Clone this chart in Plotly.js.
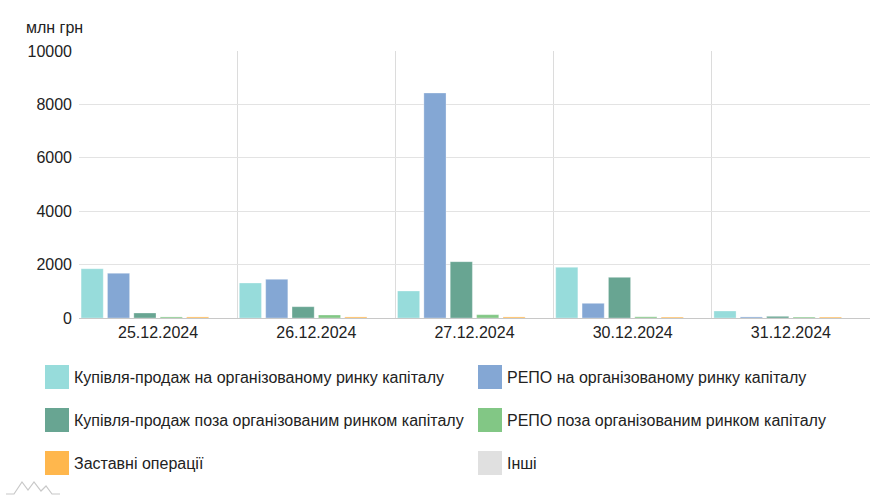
<!DOCTYPE html>
<html><head><meta charset="utf-8">
<script src="https://cdn.plot.ly/plotly-3.0.1.min.js"></script>
<style>html,body{margin:0;padding:0;background:#fff}#chart{width:891px;height:500px}</style>
</head><body><div id="chart"></div>
<script>
const categories = ["25.12.2024","26.12.2024","27.12.2024","30.12.2024","31.12.2024"];
const seriesNames = [
  "Купівля-продаж на організованому ринку капіталу",
  "РЕПО на організованому ринку капіталу",
  "Купівля-продаж поза організованим ринком капіталу",
  "РЕПО поза організованим ринком капіталу",
  "Заставні операції",
  "Інші"
];
const buySellOrg    = [1846, 1310, 1011, 1898, 262];
const repoOrg       = [1674, 1450, 8427, 550, 40];
const buySellOutOrg = [187, 423, 2110, 1524, 62];
const repoOutOrg    = [40, 112, 124, 45, 35];
const pledgeOps     = [40, 40, 40, 35, 35];
const others        = [0, 0, 0, 0, 0];
const seriesValues = [buySellOrg, repoOrg, buySellOutOrg, repoOutOrg, pledgeOps, others];
const colors = ["#97dcdb", "#84a7d4", "#68a592", "#82c785", "#ffb74d", "#e0e0e0"];
const yTicks = [0, 2000, 4000, 6000, 8000, 10000];

const font = "Liberation Sans, Arial, sans-serif";
const traces = seriesValues.map((vals, i) => ({
  type: "bar", name: seriesNames[i], x: categories, y: vals,
  marker: {color: colors[i], line: {color: "rgba(255,255,255,0.5)", width: 0.6}},
  hoverinfo: "x+y+name", showlegend: false
}));

const px = v => (v - 79) / 791, py = v => (318 - v) / 267;
const shapes = [], annotations = [];
annotations.push({xref:"paper", yref:"paper", x:px(24), y:py(27), xanchor:"left", yanchor:"middle",
  text:"млн грн", showarrow:false, font:{family:font, size:16, color:"#222"}});
// legend
const colX = [45, 478], rowY = [377, 420, 463];
seriesNames.forEach((n, i) => {
  const cx = colX[i % 2], cy = rowY[Math.floor(i / 2)];
  shapes.push({type:"rect", xref:"paper", yref:"paper", x0:px(cx), x1:px(cx + 24), y0:py(cy + 12), y1:py(cy - 12),
    fillcolor: colors[i], line:{width:0}, layer:"above"});
  annotations.push({xref:"paper", yref:"paper", x:px(cx + 27), y:py(cy), xanchor:"left", yanchor:"middle",
    text:n, showarrow:false, font:{family:font, size:16, color:"#222"}});
});
// small watermark
shapes.push({type:"path", xref:"paper", yref:"paper",
  path: `M ${px(6)} ${py(494)} L ${px(14)} ${py(494)} L ${px(22)} ${py(482)} L ${px(28)} ${py(490)} L ${px(34)} ${py(482)} L ${px(41)} ${py(491)} L ${px(46)} ${py(486)} L ${px(52)} ${py(494)} L ${px(60)} ${py(494)}`,
  line:{color:"#c8c8c8", width:1.2}});

const layout = {
  width: 891, height: 500,
  margin: {l:79, r:21, t:51, b:182, pad:0},
  paper_bgcolor:"#fff", plot_bgcolor:"#fff",
  barmode:"group", bargap:0.0, bargroupgap:0.16,
  font:{family:font, size:16, color:"#222"},
  xaxis:{type:"category", tickson:"boundaries", showgrid:true, gridcolor:"#dcdcdc", gridwidth:1,
    ticks:"", showline:true, linecolor:"#c8c8c8", linewidth:1, mirror:false,
    tickfont:{family:font, size:16, color:"#222"}, fixedrange:true},
  yaxis:{range:[0,10000], tickvals:yTicks, ticktext:yTicks.map(String), showgrid:true,
    gridcolor:"#e3e3e3", gridwidth:1, zeroline:false, showline:false, ticks:"",
    tickfont:{family:font, size:16, color:"#222"}, ticklabelstandoff:6, fixedrange:true},
  shapes: shapes, annotations: annotations, showlegend:false
};
Plotly.newPlot("chart", traces, layout, {displayModeBar:false});
</script></body></html>
